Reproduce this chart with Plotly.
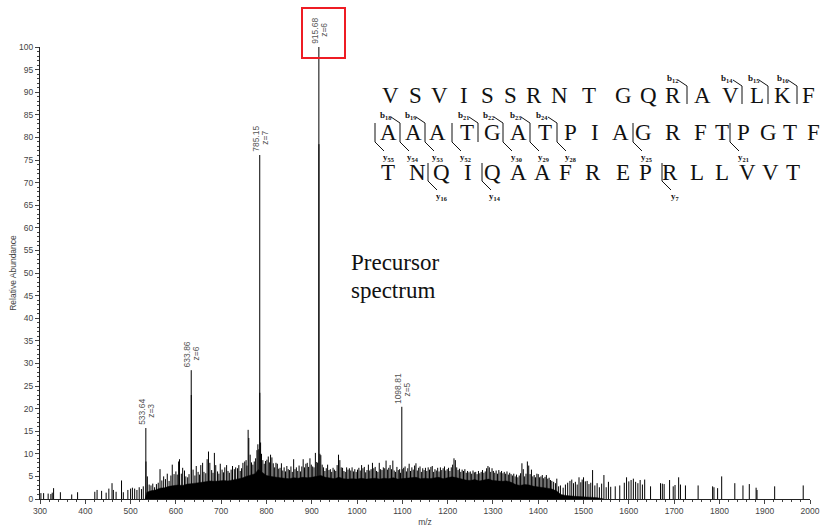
import plotly.graph_objects as go

# ---------------- data ----------------
# labelled main peaks (m/z, relative abundance, charge label)
main_mz = [533.64, 633.86, 785.15, 915.68, 1098.81]
main_int = [15.7, 28.5, 76.1, 100.0, 20.4]
main_z = ["z=3", "z=6", "z=7", "z=6", "z=5"]

# isotope sticks right under the main peaks
iso_mz = [533.97, 634.03, 785.29, 915.85]
iso_int = [8.3, 23.0, 23.5, 78.5]

# individual background peaks
bg_mz = [302, 308, 318, 324, 327, 330, 345, 370, 383, 421, 426, 436, 446, 452, 459, 462, 468, 480, 484, 494,
         500, 504, 509, 514, 519, 524, 528,
         537, 541, 545, 549, 553, 557, 561, 565, 569, 573, 577, 581, 585, 589, 592, 596, 600,
         603, 606, 608, 612, 615, 619, 622, 626, 629, 638, 642, 645, 649,
         652, 655, 659, 662, 666, 669, 672, 675, 679, 682, 685, 688, 692, 695, 698,
         702, 705, 708, 712, 715, 718, 722, 725, 729, 732, 736, 739, 742, 745, 748,
         752, 755, 757, 759.5, 761, 764, 767, 770, 773, 776, 779, 781, 783, 787, 789, 792, 795, 798,
         801, 804, 807, 809, 812, 815, 818, 821, 824, 827, 830, 833, 836, 839, 842, 845, 848,
         851, 854, 857, 860, 863, 866, 869, 872, 875, 878, 881, 884, 887, 890, 893, 896, 899,
         902, 905, 908, 911, 913, 918, 920, 923, 926, 929, 932, 935, 938, 941, 944, 947,
         950, 953, 956, 959, 962, 965, 968, 971, 974, 977, 980, 983, 986, 989, 992, 995, 998,
         1001, 1004, 1007, 1010, 1013, 1016, 1019, 1022, 1025, 1028, 1031, 1034, 1037, 1040, 1043, 1046, 1049,
         1052, 1055, 1058, 1061, 1064, 1067, 1070, 1073, 1076, 1079, 1082, 1085, 1088, 1091, 1094, 1096, 1101, 1103,
         1106, 1109, 1112, 1115, 1118, 1121, 1124, 1127, 1130, 1133, 1136, 1139, 1142, 1145, 1148,
         1151, 1154, 1157, 1160, 1163, 1166, 1169, 1172, 1175, 1178, 1181, 1184, 1187, 1190, 1193, 1196, 1199,
         1202, 1205, 1208, 1211, 1214, 1217, 1220, 1223, 1226, 1229, 1232, 1235, 1238, 1241, 1244, 1247,
         1250, 1253, 1256, 1259, 1262, 1265, 1268, 1271, 1274, 1277, 1280, 1283, 1286, 1289, 1292, 1295, 1298,
         1301, 1304, 1307, 1310, 1313, 1316, 1319, 1322, 1325, 1328, 1331, 1334, 1337, 1340, 1343, 1346, 1349,
         1352, 1355, 1358, 1361, 1364, 1367, 1370, 1373, 1376, 1379, 1382, 1385, 1388, 1391, 1394, 1397,
         1400, 1403, 1406, 1409, 1412, 1415, 1418, 1421, 1424, 1427, 1430, 1434, 1438, 1441, 1445, 1449,
         1455, 1460, 1465, 1470, 1474, 1478, 1482, 1486, 1490, 1494, 1497, 1500, 1504, 1508, 1512, 1516, 1520,
         1525, 1530, 1535, 1540, 1545, 1550,
         1555, 1560, 1570, 1580, 1590, 1595, 1600, 1605, 1610, 1615, 1620, 1625, 1630, 1635, 1648, 1670, 1674,
         1678, 1690, 1698, 1702, 1710, 1714, 1725, 1753, 1785, 1788, 1796, 1805, 1834, 1852, 1866, 1881, 1883,
         1922, 1985]
bg_int = [1.3, 1.3, 1.2, 1.1, 1.4, 2.4, 1.5, 1.0, 1.5, 1.6, 2.0, 1.8, 1.4, 2.3, 3.5, 2.0, 1.6, 4.1, 1.5, 2.0,
          2.3, 2.5, 2.3, 2.0, 2.6, 2.2, 2.8,
          5.0, 3.2, 3.0, 3.4, 2.6, 3.3, 3.6, 6.6, 4.1, 5.0, 4.4, 5.6, 4.0, 5.2, 7.6, 5.5, 6.1,
          5.4, 8.3, 8.8, 5.6, 6.9, 6.3, 5.0, 4.8, 5.5, 6.5, 5.2, 7.3, 6.0,
          5.4, 7.5, 8.0, 6.0, 5.7, 8.8, 10.5, 8.0, 6.4, 5.8, 10.2, 7.5, 6.1, 5.6, 7.8,
          6.5, 5.9, 7.0, 7.5, 6.2, 5.8, 6.5, 7.3, 6.6, 7.0, 6.8, 7.5, 6.2, 6.8, 8.0,
          8.3, 8.6, 7.4, 15.3, 13.5, 9.8, 8.1, 7.6, 8.3, 9.0, 10.8, 12.1, 11.0, 12.5, 10.0, 8.6, 7.8, 8.4,
          8.7, 9.4, 8.1, 9.8, 9.2, 7.9, 7.0, 8.0, 7.8, 6.7, 6.9, 7.9, 6.3, 7.0, 6.1, 7.3, 6.6,
          6.4, 7.2, 6.0, 8.8, 6.6, 7.0, 6.2, 7.4, 6.1, 7.2, 8.8, 7.0, 7.8, 8.0, 7.1, 9.0, 7.6,
          7.2, 7.0, 10.2, 8.2, 8.0, 10.0, 9.7, 7.6, 7.0, 6.2, 6.8, 7.6, 6.4, 6.6, 6.0, 6.9,
          6.5, 6.2, 7.5, 9.8, 8.6, 7.0, 6.9, 6.2, 6.0, 7.0, 6.5, 6.8, 6.3, 7.0, 6.1, 6.6, 6.0,
          6.5, 6.9, 6.3, 7.5, 6.8, 7.1, 5.9, 6.4, 7.6, 6.3, 6.6, 8.0, 6.8, 7.1, 6.2, 6.0, 8.0,
          6.6, 6.4, 7.0, 6.8, 8.5, 6.5, 6.9, 7.5, 6.6, 8.5, 6.3, 6.0, 7.1, 6.4, 6.6, 5.8, 6.6, 6.9,
          7.2, 6.1, 6.8, 7.8, 6.2, 7.0, 6.5, 7.4, 7.9, 6.3, 6.9, 7.2, 6.0, 6.8, 6.4,
          6.9, 6.2, 7.0, 6.5, 7.1, 7.3, 6.0, 6.6, 6.3, 6.9, 6.1, 7.0, 6.4, 6.8, 7.2, 6.3, 6.6,
          6.9, 6.2, 7.0, 7.6, 9.0, 8.6, 7.0, 6.4, 6.7, 6.0, 6.5, 6.2, 6.6, 5.8, 6.2, 5.9,
          6.1, 5.6, 6.3, 5.9, 6.0, 5.5, 6.2, 5.7, 6.0, 6.4, 5.8, 6.1, 6.8, 7.3, 7.0, 6.0, 6.8,
          6.2, 5.8, 6.3, 5.6, 6.4, 5.9, 6.2, 5.7, 6.0, 5.6, 6.1, 5.4, 5.8, 5.5, 5.2, 5.6, 5.0,
          5.4, 4.8, 5.2, 5.7, 7.9, 6.6, 5.0, 5.6, 8.3, 7.4, 5.5, 6.5, 5.0, 5.3, 4.8, 5.6,
          5.5, 4.8, 5.0, 5.3, 4.6, 4.9, 5.3, 4.5, 4.7, 4.2, 4.0, 3.8, 3.5, 4.5, 2.8, 3.0,
          2.5, 3.2, 3.6, 4.0, 4.3, 3.5, 3.8, 3.2, 4.8, 3.7, 4.3, 4.8, 3.9, 4.0, 3.3, 3.6, 6.4,
          3.0, 3.5, 2.6, 3.4, 5.3, 2.6,
          3.8, 2.7, 2.8, 3.0, 3.6, 4.8, 3.9, 4.2, 4.5, 3.8, 3.5, 4.2, 3.2, 4.3, 2.8, 3.5, 3.4,
          3.3, 4.2, 2.8, 3.1, 4.8, 3.2, 3.0, 3.0, 2.8, 2.6, 2.4, 5.0, 3.5, 3.0, 3.3, 2.5, 2.0,
          2.8, 3.0]

# upper edge of the solid (unresolved) black band
floor_mz = [532, 536, 545, 555, 565, 575, 585, 595, 605, 615, 625, 635, 645, 655, 665, 675, 685, 695,
            705, 715, 725, 735, 745, 755, 765, 775, 782, 790, 800, 810, 820, 830, 840, 850, 860, 870,
            880, 890, 900, 910, 920, 930, 940, 950, 960, 970, 980, 990, 1000, 1010, 1020, 1030, 1040,
            1050, 1060, 1070, 1080, 1090, 1100, 1110, 1120, 1130, 1140, 1150, 1160, 1170, 1180, 1190,
            1200, 1210, 1220, 1230, 1240, 1250, 1260, 1270, 1280, 1290, 1300, 1310, 1320, 1330, 1340,
            1350, 1360, 1370, 1380, 1390, 1400, 1410, 1420, 1430, 1440, 1450, 1460, 1480, 1500, 1530, 1545]
floor_int = [0, 1.5, 1.8, 2.0, 2.4, 2.5, 2.8, 2.9, 3.1, 3.0, 3.3, 3.4, 3.5, 3.6, 3.8, 4.0, 3.9, 4.0,
             4.1, 4.0, 4.2, 4.3, 4.6, 5.0, 5.3, 5.6, 6.5, 6.0, 5.2, 5.0, 4.8, 4.7, 4.6, 4.5, 4.7, 4.6,
             4.8, 4.7, 4.8, 5.0, 5.2, 4.8, 4.6, 4.5, 4.8, 4.5, 4.4, 4.5, 4.4, 4.6, 4.4, 4.5, 4.6,
             4.4, 4.6, 4.5, 4.7, 4.4, 4.5, 4.6, 4.7, 4.8, 4.5, 4.6, 4.5, 4.7, 4.8, 4.5,
             4.7, 4.9, 4.7, 4.4, 4.2, 4.1, 4.3, 4.0, 4.2, 4.4, 4.1, 4.0, 3.9, 4.0, 3.7,
             3.2, 3.0, 3.2, 3.1, 2.8, 2.7, 2.6, 2.4, 2.2, 1.8, 1.0, 0.8, 0.6, 0.5, 0.3, 0]

# peptide sequence rows and fragment-ion brackets
seq_rows = ["VSVISSRNTGQRAVLKF", "AAATGATPIAGRFTPGTF", "TNQIQAAFREPRLLVVT"]
# (row, cut pixel x, b label, y label)
cuts = [(0, 687, "12", None), (0, 742, "14", None), (0, 768, "15", None), (0, 797, "16", None),
        (1, 375, None, "55"), (1, 400, "18", "54"), (1, 425, "19", "53"), (1, 452, None, "52"),
        (1, 478, "21", None), (1, 503, "22", "30"), (1, 530, "23", "29"), (1, 557, "24", "28"),
        (1, 633, None, "25"), (1, 730, None, "21"),
        (2, 428, None, "16"), (2, 482, None, "14"), (2, 662, None, "7")]

# ---------------- layout constants (pixels) ----------------
W, H = 822, 527
L, R, T, B = 40, 12, 47, 28
PW, PH = W - L - R, H - T - B


def px(x):
    return (x - L) / PW


def py(y):
    return (H - B - y) / PH


letter_x = [
    [390, 415, 440, 464, 487, 510, 534, 559, 589, 623, 648, 673, 702, 730, 757, 782, 808],
    [388, 413, 438, 467, 492, 518, 545, 570, 595, 620, 643, 673, 700, 722, 743, 768, 790, 813],
    [388, 417, 442, 468, 492, 518, 542, 565, 593, 623, 645, 670, 697, 722, 747, 770, 793],
]
row_top = [86, 123, 163]
row_bot = [104, 142, 181]
row_mid = [95, 132, 172]

fig = go.Figure()

# solid band
fig.add_trace(go.Scatter(x=floor_mz, y=floor_int, mode="lines", fill="tozeroy",
                         line=dict(color="black", width=0.5), fillcolor="black",
                         hoverinfo="skip", showlegend=False))

# sticks
sx, sy = [], []
for m, v in zip(bg_mz + iso_mz + main_mz, bg_int + iso_int + main_int):
    sx += [m, m, None]
    sy += [0, v, None]
fig.add_trace(go.Scatter(x=sx, y=sy, mode="lines", line=dict(color="black", width=1),
                         hoverinfo="skip", showlegend=False))

annotations = []
lab_font = dict(family="Liberation Sans, Arial", size=8.5, color="#555555")
for m, v, z in zip(main_mz, main_int, main_z):
    annotations.append(dict(x=m, y=v, xref="x", yref="y", text=f"{m:.2f}", textangle=-90,
                            showarrow=False, xanchor="center", yanchor="bottom", xshift=-4, yshift=1,
                            font=lab_font))
    annotations.append(dict(x=m, y=v, xref="x", yref="y", text=z, textangle=-90,
                            showarrow=False, xanchor="center", yanchor="bottom", xshift=5, yshift=8,
                            font=lab_font))

serif = "Liberation Serif, Times New Roman, serif"
for r, row in enumerate(seq_rows):
    for ch, x in zip(row, letter_x[r]):
        annotations.append(dict(x=px(x), y=py(row_mid[r]), xref="paper", yref="paper", text=ch,
                                showarrow=False, xanchor="center", yanchor="middle",
                                font=dict(family=serif, size=23, color="#111111")))

shapes = []
lw = dict(color="#111111", width=1)
small = dict(family=serif, size=9, color="#111111")
for r, cx, b, y in cuts:
    top, bot = row_top[r], row_bot[r]
    shapes.append(dict(type="line", xref="paper", yref="paper", x0=px(cx), x1=px(cx),
                       y0=py(top), y1=py(bot), line=lw))
    if b is not None:
        shapes.append(dict(type="line", xref="paper", yref="paper", x0=px(cx - 9), x1=px(cx),
                           y0=py(top - 6), y1=py(top), line=lw))
        annotations.append(dict(x=px(cx - 15), y=py(top - 8), xref="paper", yref="paper",
                                text=f"<b>b<sub>{b}</sub></b>", showarrow=False,
                                xanchor="center", yanchor="middle", font=small))
    if y is not None:
        shapes.append(dict(type="line", xref="paper", yref="paper", x0=px(cx), x1=px(cx + 9),
                           y0=py(bot), y1=py(bot + 9), line=lw))
        annotations.append(dict(x=px(cx + 13), y=py(bot + 15), xref="paper", yref="paper",
                                text=f"<b>y<sub>{y}</sub></b>", showarrow=False,
                                xanchor="center", yanchor="middle", font=small))

annotations.append(dict(x=px(349), y=py(262), xref="paper", yref="paper", text="Precursor",
                        showarrow=False, xanchor="left", yanchor="middle",
                        font=dict(family=serif, size=23, color="#111111")))
annotations.append(dict(x=px(349), y=py(290), xref="paper", yref="paper", text="spectrum",
                        showarrow=False, xanchor="left", yanchor="middle",
                        font=dict(family=serif, size=23, color="#111111")))

# red highlight box around the base-peak label
shapes.append(dict(type="rect", xref="paper", yref="paper", x0=px(302), x1=px(345),
                   y0=py(58), y1=py(8), line=dict(color="#ee1c24", width=2)))

tick_font = dict(family="Liberation Sans, Arial", size=8.5, color="#444444")
fig.update_layout(
    width=W, height=H, margin=dict(l=L, r=R, t=T, b=B, autoexpand=False),
    paper_bgcolor="white", plot_bgcolor="white",
    annotations=annotations, shapes=shapes, showlegend=False,
    xaxis=dict(range=[300, 2000], tick0=300, dtick=100, ticks="outside", ticklen=4,
               tickcolor="#444", showline=True, linecolor="#222", linewidth=1,
               showgrid=False, zeroline=False, tickfont=tick_font, automargin=False,
               minor=dict(dtick=20, ticks="outside", ticklen=2, tickcolor="#444"),
               title=dict(text="m/z", font=tick_font, standoff=9)),
    yaxis=dict(range=[0, 100], tick0=0, dtick=5, ticks="outside", ticklen=4,
               tickcolor="#444", showline=True, linecolor="#222", linewidth=1,
               showgrid=False, zeroline=False, tickfont=tick_font, automargin=False,
               minor=dict(dtick=1, ticks="outside", ticklen=2, tickcolor="#444"),
               title=dict(text="Relative Abundance", font=tick_font, standoff=1)),
)

fig.write_html("out.html")
